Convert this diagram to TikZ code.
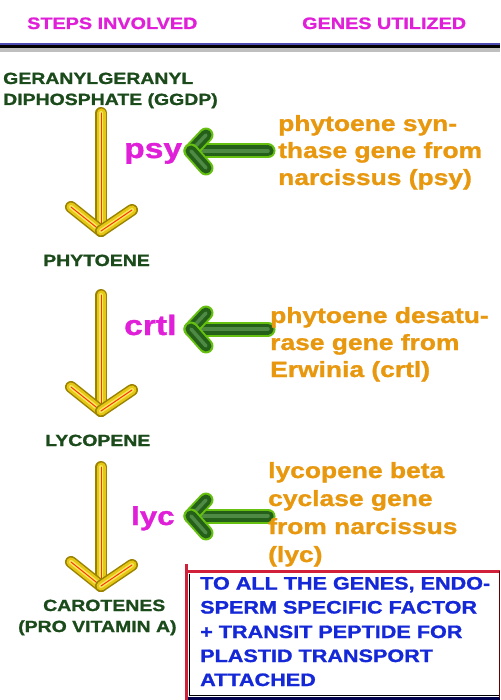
\documentclass[tikz,border=0pt]{standalone}
\usepackage{fontspec}
\newfontfamily\bk[FakeStretch=1.2,FakeBold=1.2]{Liberation Sans Bold}
\definecolor{mag}{HTML}{E020D8}
\definecolor{org}{HTML}{E8980F}
\definecolor{dgr}{HTML}{1B4A1B}
\definecolor{blu}{HTML}{1428D8}
\definecolor{goldo}{HTML}{9A8200}
\definecolor{goldi}{HTML}{E6C814}
\definecolor{goldh}{HTML}{F6E860}
\definecolor{glow}{HTML}{66C010}
\definecolor{gbody}{HTML}{24601A}
\definecolor{ghi}{HTML}{4F8A44}
\definecolor{boxred}{HTML}{D0203A}
\tikzset{
  hdr/.style={inner sep=0,anchor=base west,text=mag,font=\bk\fontsize{16.5}{20}\selectfont},
  stp/.style={inner sep=0,anchor=base west,text=dgr,font=\bk\fontsize{16.2}{20}\selectfont},
  gen/.style={inner sep=0,anchor=base west,text=org,font=\bk\fontsize{22}{27}\selectfont},
  enz/.style={inner sep=0,anchor=base west,text=mag,font=\bk\fontsize{28}{30}\selectfont},
  bxt/.style={inner sep=0,anchor=base west,text=blu,font=\bk\fontsize{18}{24}\selectfont},
  ya/.style={line cap=round,color=goldo,line width=12pt},
  yb/.style={line cap=round,color=goldi,line width=9pt},
  yc/.style={line cap=round,color=goldh,line width=4pt},
  yd/.style={line cap=round,color=red!60!orange,line width=1pt},
  ga/.style={line cap=round,color=glow,line width=15pt},
  gb/.style={line cap=round,color=gbody,line width=11pt},
  gc/.style={line cap=round,color=ghi,line width=3.5pt},
}
\newcommand{\yleg}[2]{%
  \draw[ya] (#1) -- (#2); \draw[yb] (#1) -- (#2); \draw[yc] (#1) -- (#2); \draw[yd] (#1) -- (#2);}
\newcommand{\gleg}[2]{%
  \draw[ga] (#1) -- (#2); \draw[gb] (#1) -- (#2); \draw[gc] (#1) -- (#2);}
\begin{document}
\begin{tikzpicture}[x=1pt,y=-1pt]
\useasboundingbox (0,0) rectangle (500,700);
\fill[white] (0,0) rectangle (500,700);
% header
\node[hdr] (h1) at (27,29) {STEPS INVOLVED};
\node[hdr] (h2) at (302,29) {GENES UTILIZED};
\draw[black!25,line width=4pt] (0,50) -- (500,50);
\draw[black,line width=4pt] (0,46.5) -- (500,46.5);
\draw[blue!40!gray,line width=1.5pt] (0,44) -- (500,44);
% steps
\node[stp] (g1) at (3,84) {GERANYLGERANYL};
\node[stp] (g2) at (3,105) {DIPHOSPHATE (GGDP)};
\node[stp] (phy) at (43,266) {PHYTOENE};
\node[stp] (lyco) at (45,446) {LYCOPENE};
\node[stp] (car1) at (43,611) {CAROTENES};
\node[stp] (car2) at (18,632) {(PRO VITAMIN A)};
% yellow arrows
\foreach \n/\t/\b in {1/113/231, 2/295/411, 3/467/586}{
  \coordinate (s\n) at (101,\t);
  \coordinate (e\n) at (101,\b);
  \coordinate (l\n) at (71,\b-24);
  \coordinate (r\n) at (132,\b-21);
  \yleg{s\n}{e\n}
  \yleg{l\n}{e\n}
  \yleg{r\n}{e\n}
}
% enzymes
\node[enz] (psy) at (124,158) {psy};
\node[enz] (crtl) at (124,335) {crtl};
\node[enz,font=\bk\fontsize{26}{30}\selectfont] (lyc) at (131,525) {lyc};
% green arrows
\foreach \n/\y in {1/151, 2/329, 3/516}{
  \coordinate (gt\n) at (191,\y);
  \coordinate (gs\n) at (268,\y);
  \coordinate (gu\n) at (206,\y-16);
  \coordinate (gd\n) at (206,\y+17);
  \gleg{gs\n}{gt\n}
  \gleg{gu\n}{gt\n}
  \gleg{gd\n}{gt\n}
}
% gene texts
\node[gen] (a1) at (278,131) {phytoene syn-};
\node[gen] (a2) at (278,158) {thase gene from};
\node[gen] (a3) at (278,185) {narcissus (psy)};
\node[gen] (b1) at (270,323) {phytoene desatu-};
\node[gen] (b2) at (270,350) {rase gene from};
\node[gen] (b3) at (270,377) {Erwinia (crtl)};
\node[gen] (c1) at (268,478) {lycopene beta};
\node[gen] (c2) at (268,506) {cyclase gene};
\node[gen] (c3) at (268,534) {from narcissus};
\node[gen] (c4) at (268,562) {(lyc)};
% box
\fill[white] (186,570) rectangle (500,700);
\draw[black,line width=0.8pt] (189.5,573.5) -- (189.5,695) -- (500,695);
\draw[black!70!blue,line width=3pt] (186,698.5) -- (500,698.5);
\draw[boxred,line width=3pt] (186,571) -- (500,571);
\draw[boxred,line width=3pt] (186.5,564) -- (186.5,700);
\draw[black!60!red,line width=1pt] (499.5,571) -- (499.5,698);
\node[bxt] (t1) at (200,589.5) {TO ALL THE GENES, ENDO-};
\node[bxt] (t2) at (200,613.5) {SPERM SPECIFIC FACTOR};
\node[bxt] (t3) at (200,638) {+ TRANSIT PEPTIDE FOR};
\node[bxt] (t4) at (200,662) {PLASTID TRANSPORT};
\node[bxt] (t5) at (200,686) {ATTACHED};
\end{tikzpicture}
\end{document}
